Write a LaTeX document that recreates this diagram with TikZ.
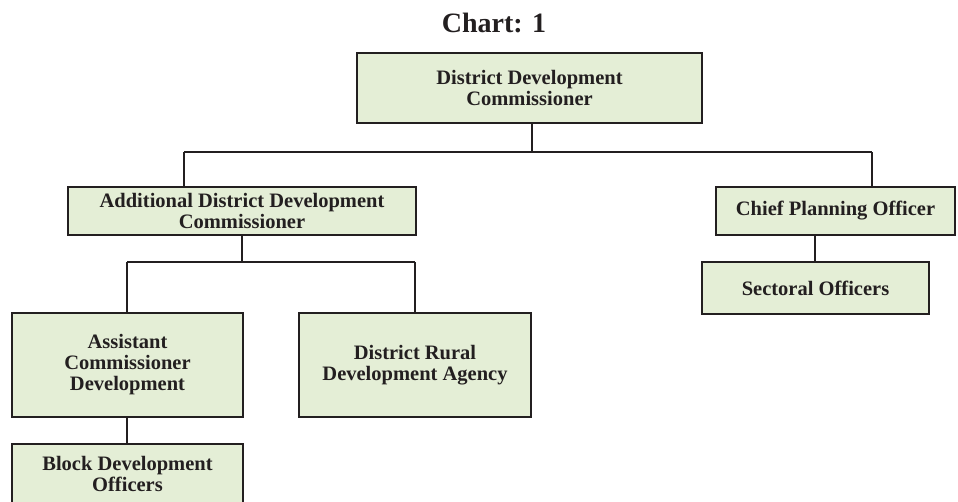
\documentclass[tikz,border=0pt]{standalone}
\usepackage{fontspec}
\setmainfont{Liberation Serif}
\definecolor{boxfill}{RGB}{228,238,214}
\definecolor{ink}{RGB}{35,31,32}
\tikzset{
  orgbox/.style={draw=ink, line width=1.6pt, fill=boxfill, rectangle, inner sep=0pt,
    align=center, text=ink, font=\fontsize{20.5}{21}\selectfont\bfseries},
  link/.style={draw=ink, line width=1.3pt}
}
\begin{document}
\begin{tikzpicture}[x=1pt,y=-1pt]
\useasboundingbox (0,0) rectangle (958,501);
\clip (0,0) rectangle (958,501);
\fill[white] (0,0) rectangle (958,501);

\node[anchor=base, text=ink, font=\fontsize{28}{28}\selectfont\bfseries] (title) at (494,32) {Chart: 1};

\coordinate (b1L) at (184,152);
\coordinate (b1R) at (872,152);
\coordinate (b2L) at (127,262);
\coordinate (b2R) at (415,262);
\coordinate (b1M) at (532,152);

\draw[link] (b1L) -- (b1R);
\draw[link] (b2L) -- (b2R);

\node[orgbox, minimum width=345pt, minimum height=70pt] (ddc) at (529.5,88) {District Development\\Commissioner};
\node[orgbox, minimum width=348pt, minimum height=48pt] (addc) at (242,211) {Additional District Development\\Commissioner};
\node[orgbox, minimum width=239pt, minimum height=48pt] (cpo) at (835.5,211) {Chief Planning Officer};
\node[orgbox, minimum width=227pt, minimum height=52pt] (so) at (815.5,288) {Sectoral Officers};
\node[orgbox, minimum width=231pt, minimum height=104pt] (acd) at (127.5,365) {Assistant\\Commissioner\\Development};
\node[orgbox, minimum width=232pt, minimum height=104pt] (drda) at (415,365) {District Rural\\Development Agency};
\node[orgbox, minimum width=231pt, minimum height=60pt] (bdo) at (127.5,474) {Block Development\\Officers};

\draw[link] (b1M) -- (b1M |- ddc.south);
\draw[link] (b1L) -- (b1L |- addc.north);
\draw[link] (b1R) -- (b1R |- cpo.north);

\draw[link] (addc.south) -- (addc.south |- b2L);
\draw[link] (b2L) -- (b2L |- acd.north);
\draw[link] (b2R) -- (b2R |- drda.north);

\draw[link] (so.north -| 815,0) -- (cpo.south -| 815,0);
\draw[link] (acd.south -| 127,0) -- (bdo.north -| 127,0);
\end{tikzpicture}
\end{document}
